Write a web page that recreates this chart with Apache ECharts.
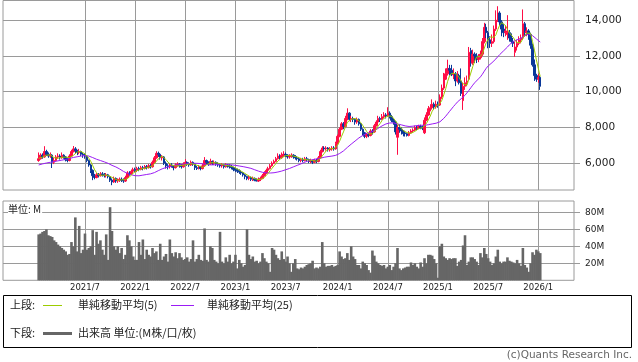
<!DOCTYPE html>
<html><head><meta charset="utf-8">
<script src="https://cdn.jsdelivr.net/npm/echarts@6/dist/echarts.min.js"></script>
<style>html,body{margin:0;padding:0;background:#fff}#c{width:638px;height:362px}</style>
</head><body><div id="c"></div>
<script>
// ---- axis setup data ----
const startMonday = '2020-09-07';
const weekCount = 296;
const dataStartWeek = 18;
const tickLabels = ['2021/7','2022/1','2022/7','2023/1','2023/7','2024/1','2024/7','2025/1','2025/7','2026/1'];
const priceTicks = [6000, 8000, 10000, 12000, 14000];
const volumeTicks = [20, 40, 60, 80];

// ---- weekly candles (from 2021-01-11) ----
const opens = [
6150,6250,6450,6350,6650,6500,6400,6450,6050,6150,
6350,6400,6300,6450,6350,6200,6150,6400,6650,6800,
6700,6600,6650,6500,6450,6400,6150,5900,5600,5300,
5200,5350,5300,5400,5350,5300,5350,5250,5050,4950,
5150,5000,5050,5100,5050,5000,5200,5450,5400,5550,
5650,5600,5700,5650,5750,5700,5800,5750,5850,5800,
6050,6300,6550,6500,6300,6350,6000,5850,5800,5900,
5850,5750,5900,5950,5850,5800,5950,6050,5950,5900,
6050,5950,5750,5700,5800,5700,5850,6150,6050,5950,
6100,6000,6050,5950,5900,5850,5900,5800,5900,5850,
5800,5750,5650,5600,5550,5500,5450,5350,5250,5150,
5200,5100,5150,5050,5000,5100,5150,5300,5450,5600,
5700,5850,6000,6100,6250,6400,6300,6450,6500,6450,
6350,6400,6450,6350,6300,6250,6150,6200,6150,6250,
6200,6100,6150,6050,6150,6100,6300,6650,6850,6800,
6850,6750,6800,6850,6800,7100,7500,7900,8200,8050,
8500,8800,8450,8500,8450,8300,8450,8200,7900,7700,
7500,7600,7550,7800,7750,8100,8300,8500,8450,8600,
8700,8650,8800,8600,8400,8300,7450,8000,7900,7800,
7700,7650,7550,7700,7800,7850,8000,7950,8050,8000,
7700,8400,8700,9050,9100,9300,9150,9300,9250,9700,
10200,10700,11000,11300,11200,10950,11000,10600,10900,10600,
9500,10300,10500,10700,12300,11600,12100,12000,11800,11900,
12100,12800,13600,13300,12900,12700,12800,13500,14000,14400,
13900,13500,13300,13200,13300,13000,12800,12200,12500,12700,
12900,13000,13800,13300,13400,13200,12600,11500,10900,10700,
10800];
const closes = [
6250,6450,6350,6650,6500,6400,6450,6050,6150,6350,
6400,6300,6450,6350,6200,6150,6400,6650,6800,6700,
6600,6650,6500,6450,6400,6150,5900,5600,5300,5200,
5350,5300,5400,5350,5300,5350,5250,5050,4950,5150,
5000,5050,5100,5050,5000,5200,5450,5400,5550,5650,
5600,5700,5650,5750,5700,5800,5750,5850,5800,6050,
6300,6550,6500,6300,6350,6000,5850,5800,5900,5850,
5750,5900,5950,5850,5800,5950,6050,5950,5900,6050,
5950,5750,5700,5800,5700,5850,6150,6050,5950,6100,
6000,6050,5950,5900,5850,5900,5800,5900,5850,5800,
5750,5650,5600,5550,5500,5450,5350,5250,5150,5200,
5100,5150,5050,5000,5100,5150,5300,5450,5600,5700,
5850,6000,6100,6250,6400,6300,6450,6500,6450,6350,
6400,6450,6350,6300,6250,6150,6200,6150,6250,6200,
6100,6150,6050,6150,6100,6300,6650,6850,6800,6850,
6750,6800,6850,6800,7100,7500,7900,8200,8050,8500,
8800,8450,8500,8450,8300,8450,8200,7900,7700,7500,
7600,7550,7800,7750,8100,8300,8500,8450,8600,8700,
8650,8800,8600,8400,8300,7750,8000,7900,7800,7650,
7650,7550,7700,7800,7850,8000,7950,8050,8000,7950,
8400,8700,9050,9100,9300,9150,9300,9250,9700,10200,
10700,11000,11300,11200,10950,11000,10600,10900,10500,9900,
10300,10500,10600,12200,11600,12100,12000,11800,11900,12100,
12800,13600,13300,12900,12700,12800,13500,14000,14400,13900,
13500,13300,13400,13300,13000,12800,12700,12500,12700,12900,
13000,13800,13300,13400,13200,12600,11500,10900,10700,10800,
10300];
const lows = [
6080,6200,6250,6300,6400,6300,6300,5730,5950,6100,
6250,6200,6250,6250,6100,6050,6100,6350,6600,6550,
6450,6500,6400,6300,6250,6050,5800,5450,5050,5100,
5150,5200,5250,5250,5200,5200,5150,4950,4770,4900,
4900,4900,4950,4950,4900,4950,5150,5300,5350,5450,
5500,5500,5550,5600,5600,5650,5650,5700,5700,5750,
6000,6250,6350,6200,6150,5900,5700,5650,5700,5750,
5600,5700,5800,5750,5700,5750,5900,5850,5800,5850,
5850,5620,5620,5650,5600,5650,5800,5950,5850,5900,
5900,5900,5850,5800,5750,5750,5700,5750,5750,5700,
5650,5550,5500,5450,5400,5350,5250,5100,5050,5050,
5000,5000,4990,4990,4950,5000,5100,5250,5400,5550,
5650,5800,5950,6050,6200,6200,6250,6350,6350,6250,
6250,6300,6250,6200,6150,6050,6050,6050,6100,6100,
6000,6000,5950,6000,6000,6050,6250,6600,6700,6700,
6650,6650,6700,6700,6750,7050,7450,7850,7900,8000,
8400,8350,8300,8300,8150,8200,8100,7800,7550,7400,
7400,7450,7500,7600,7700,8050,8250,8300,8400,8500,
8500,8600,8500,8300,8150,7600,6470,7700,7600,7500,
7490,7490,7500,7650,7700,7800,7850,7900,7900,7850,
7630,8350,8650,8900,9000,9000,9050,9100,9200,9600,
10100,10650,10900,10900,10870,10700,10310,10500,10400,9760,
8980,10100,10300,10600,11400,11500,11600,11600,11650,11800,
12000,12700,13000,12430,12450,12500,12700,13400,13900,13700,
13100,13050,13100,12900,12800,12700,12500,11950,12300,12600,
12700,12900,13080,13100,12900,12400,11400,10600,10550,10500,
10100];
const highs = [
6600,6550,6550,6950,6750,6600,6600,6500,6300,6450,
6550,6500,6600,6500,6400,6300,6500,6750,6960,6900,
6750,6800,6700,6600,6550,6450,6200,5950,5650,5400,
5450,5450,5500,5500,5450,5450,5400,5300,5150,5250,
5200,5150,5200,5200,5150,5300,5550,5550,5650,5750,
5750,5800,5800,5850,5850,5900,5900,5950,5950,6150,
6400,6670,6650,6550,6450,6400,6100,5950,6000,6000,
5900,6000,6050,6000,5950,6050,6230,6100,6050,6150,
6100,6000,5850,5900,5850,5950,6340,6200,6100,6250,
6150,6150,6100,6050,6000,6000,5950,6000,5950,5950,
5900,5800,5750,5700,5650,5600,5500,5400,5300,5300,
5250,5250,5200,5150,5200,5250,5400,5550,5700,5800,
5950,6100,6200,6350,6550,6500,6600,6670,6600,6500,
6500,6550,6500,6450,6400,6350,6300,6300,6350,6350,
6250,6250,6200,6250,6250,6400,6750,6950,6950,6950,
6900,6900,6950,6950,7200,7600,8000,8300,8300,8650,
9070,8850,8650,8600,8500,8550,8500,8250,7950,7750,
7700,7700,7900,7900,8200,8400,8650,8600,8750,8850,
8800,9130,8900,8700,8500,8350,8150,8150,8000,7850,
7800,7700,7800,7900,7950,8100,8100,8150,8150,8100,
8560,8850,9200,9300,9570,9400,9500,9450,9850,10400,
11050,11300,11790,11500,11500,11300,11100,11150,11000,11300,
10500,10800,10900,12500,12450,12350,12200,12150,12100,12300,
13000,13850,13800,13400,13100,13200,13700,14550,14780,14500,
14000,13800,13700,14280,13450,13260,13000,12800,12900,13100,
13200,14600,13900,13600,13500,13300,12700,11800,11000,11000,
10900];
// ---- moving averages ----
const ma5 = [
6270,6320,6340,6410,6440,6470,6470,6410,6310,6280,
6280,6250,6330,6370,6340,6290,6310,6350,6440,6540,
6630,6680,6650,6580,6520,6430,6280,6100,5870,5630,
5470,5350,5310,5320,5340,5340,5330,5260,5180,5150,
5080,5040,5050,5070,5040,5080,5160,5220,5320,5450,
5530,5580,5630,5670,5680,5720,5730,5770,5780,5850,
5950,6110,6240,6340,6400,6340,6200,6060,5980,5880,
5830,5840,5870,5860,5850,5890,5920,5920,5930,5980,
5980,5920,5870,5850,5780,5760,5840,5910,5940,6020,
6050,6030,6010,6000,5950,5930,5880,5870,5860,5850,
5820,5790,5730,5670,5610,5550,5490,5420,5340,5280,
5210,5170,5130,5100,5080,5090,5120,5200,5320,5440,
5580,5720,5850,5980,6120,6210,6300,6380,6420,6410,
6430,6430,6400,6370,6350,6300,6250,6210,6200,6190,
6180,6170,6150,6130,6110,6150,6250,6410,6540,6690,
6780,6810,6810,6810,6860,7010,7230,7500,7750,8030,
8290,8400,8460,8540,8500,8430,8380,8260,8110,7950,
7780,7650,7630,7640,7760,7900,8090,8220,8390,8510,
8580,8640,8670,8630,8550,8370,8210,8070,7950,7820,
7800,7710,7670,7670,7710,7780,7860,7930,7970,7990,
8070,8220,8420,8640,8910,9060,9180,9220,9340,9520,
9830,10170,10580,10880,11030,11090,11010,10930,10790,10580,
10440,10420,10360,10700,11040,11400,11700,11940,11880,11980,
12120,12440,12740,12940,13060,13060,13040,13180,13480,13720,
13860,13820,13700,13480,13300,13160,13040,12860,12740,12720,
12760,12980,13140,13280,13340,13260,12800,12320,11780,11300,
10840];
const ma25 = [
5900,5930,5960,5990,6010,6030,6050,6070,6090,6110,
6130,6150,6170,6190,6210,6240,6270,6290,6320,6340,
6360,6380,6400,6410,6424,6420,6398,6368,6314,6262,
6220,6174,6148,6116,6074,6032,5990,5934,5878,5836,
5790,5736,5674,5604,5536,5480,5432,5388,5352,5322,
5300,5292,5294,5312,5332,5350,5368,5386,5404,5434,
5472,5524,5582,5636,5684,5724,5756,5784,5818,5852,
5874,5892,5914,5926,5932,5946,5960,5972,5978,5992,
5998,5998,5992,5992,5978,5960,5944,5926,5912,5902,
5902,5910,5916,5916,5916,5922,5918,5916,5916,5916,
5908,5892,5878,5864,5842,5822,5806,5788,5762,5742,
5712,5672,5632,5594,5554,5520,5490,5470,5458,5452,
5450,5458,5466,5482,5506,5528,5560,5596,5632,5666,
5704,5748,5792,5838,5880,5922,5964,6008,6058,6102,
6140,6174,6198,6220,6236,6254,6280,6310,6332,6350,
6368,6382,6396,6410,6440,6484,6542,6616,6686,6776,
6882,6972,7066,7154,7238,7332,7414,7488,7550,7606,
7658,7694,7732,7770,7820,7882,7950,8014,8086,8150,
8196,8232,8248,8262,8254,8212,8194,8170,8144,8118,
8086,8060,8052,8056,8070,8086,8102,8112,8122,8116,
8120,8128,8152,8172,8196,8216,8236,8262,8314,8390,
8508,8628,8764,8900,9032,9166,9288,9416,9524,9606,
9698,9800,9902,10070,10216,10364,10496,10606,10718,10830,
10976,11148,11310,11438,11538,11622,11722,11830,11958,12076,
12176,12284,12384,12496,12620,12720,12808,12884,12904,12956,
12992,13064,13124,13184,13228,13220,13136,13040,12952,12876,
12776];
// ---- weekly volume, millions ----
const volumes = [
54,55,57,58,60,53,52,51,47,45,
42,40,38,36,34,30,31,45,40,74,
34,64,32,36,55,36,38,40,59,30,
57,43,47,36,30,54,24,86,58,40,
36,40,32,38,25,30,53,47,40,28,
24,24,45,30,48,25,36,30,28,38,
32,34,24,43,24,28,31,22,48,32,
28,33,26,32,27,24,25,27,22,25,
47,22,25,30,24,23,61,24,22,40,
38,24,22,20,57,22,20,27,22,30,
20,22,30,14,24,20,16,18,60,30,
25,28,22,23,20,22,32,26,22,20,
10,38,36,30,26,24,34,25,22,28,
20,10,20,25,14,13,15,14,16,18,
19,20,23,14,15,14,16,45,20,16,
17,17,18,16,17,18,34,28,25,26,
32,24,40,28,25,18,18,14,22,20,
18,12,9,35,29,22,20,18,17,18,
14,16,18,12,16,20,38,14,12,14,
15,16,16,21,18,20,16,14,21,16,
26,20,30,30,29,25,20,3,40,43,
28,26,24,26,25,26,26,17,22,24,
41,53,18,22,27,27,25,22,18,32,
27,38,31,26,22,18,20,28,36,22,
20,22,22,27,23,22,21,20,24,20,
17,38,18,15,10,20,33,30,36,34,
32];

// ---- build categories (weekly Mondays) and axis helpers ----
const DAY = 86400000;
const base = Date.parse(startMonday + 'T00:00:00Z');
const categories = [];
for (let i = 0; i < weekCount; i++) categories.push(new Date(base + i * 7 * DAY).toISOString().slice(0, 10));
function weekLabel(cat) {
  const t = Date.parse(cat + 'T00:00:00Z');
  for (let k = 0; k < 7; k++) {
    const e = new Date(t + k * DAY);
    if (e.getUTCDate() === 1) {
      const s = e.getUTCFullYear() + '/' + (e.getUTCMonth() + 1);
      return tickLabels.indexOf(s) >= 0 ? s : '';
    }
  }
  return '';
}
const labelOf = categories.map(weekLabel);
const showAt = (i) => labelOf[i] !== '';

const candleData = opens.map((o, k) => [dataStartWeek + k, o, closes[k], lows[k], highs[k]]);
const ma5Data = ma5.map((v, k) => [dataStartWeek + k, v]);
const ma25Data = ma25.map((v, k) => [dataStartWeek + k, v]);
const volData = volumes.map((v, k) => [dataStartWeek + k, v]);

const GRID = '#9a9a9a';
const UP = '#ff0d45', DOWN = '#0a3899';
const JP = '"Noto Sans CJK JP", sans-serif';

function xAxis(gridIndex, withLabels) {
  return {
    type: 'category', gridIndex, data: categories, boundaryGap: true,
    axisLine: { show: false },
    axisTick: { show: false, interval: showAt, alignWithLabel: true },
    axisLabel: withLabels ? {
      show: true, interval: showAt, formatter: (v) => weekLabel(v), margin: 3,
      fontSize: 8.5, fontFamily: 'DejaVu Sans', color: '#222'
    } : { show: false },
    splitLine: { show: true, interval: showAt, alignWithLabel: true, lineStyle: { color: GRID, width: 1 } }
  };
}

const chart = echarts.init(document.getElementById('c'), null, { renderer: 'canvas' });
chart.setOption({
  animation: false,
  backgroundColor: '#fff',
  grid: [
    { left: 3, top: 0.5, width: 571, height: 189.5, show: true, borderColor: GRID, borderWidth: 1, backgroundColor: 'transparent' },
    { left: 3, top: 201, width: 571, height: 79.3, show: true, borderColor: GRID, borderWidth: 1, backgroundColor: 'transparent' }
  ],
  xAxis: [xAxis(0, false), xAxis(1, true)],
  yAxis: [
    {
      type: 'value', gridIndex: 0, position: 'right', min: 4500, max: 15100, scale: true,
      axisLine: { show: false },
      axisTick: { show: true, length: 6, customValues: priceTicks, lineStyle: { color: GRID } },
      axisLabel: { customValues: priceTicks, margin: 11, fontSize: 10.5, fontFamily: 'DejaVu Sans', color: '#222',
        formatter: (v) => Number(v).toLocaleString('en-US') },
      splitLine: { show: true, lineStyle: { color: GRID, width: 1 } }
    },
    {
      type: 'value', gridIndex: 1, position: 'right', min: 0, max: 93.3,
      axisLine: { show: false },
      axisTick: { show: true, length: 6, customValues: volumeTicks, lineStyle: { color: GRID } },
      axisLabel: { customValues: volumeTicks, margin: 11, fontSize: 9, fontFamily: 'DejaVu Sans', color: '#222',
        formatter: (v) => v + 'M' },
      splitLine: { show: true, lineStyle: { color: GRID, width: 1 } }
    }
  ],
  series: [
    {
      type: 'candlestick', xAxisIndex: 0, yAxisIndex: 0, data: candleData,
      encode: { x: 0, y: [1, 2, 3, 4] }, barWidth: 2, silent: true,
      itemStyle: { color: UP, color0: DOWN, borderColor: UP, borderColor0: DOWN, borderWidth: 1 }
    },
    { type: 'line', xAxisIndex: 0, yAxisIndex: 0, data: ma25Data, showSymbol: false, silent: true, z: 4,
      lineStyle: { color: '#9b1cf5', width: 1 } },
    { type: 'line', xAxisIndex: 0, yAxisIndex: 0, data: ma5Data, showSymbol: false, silent: true, z: 5,
      lineStyle: { color: '#9ccc00', width: 1 } },
    { type: 'bar', xAxisIndex: 1, yAxisIndex: 1, data: volData, barWidth: 2.6, silent: true,
      itemStyle: { color: '#666666' } }
  ],
  graphic: [
    { type: 'text', left: 8, top: 204, z: 100,
      style: { text: '単位: M', font: '10px ' + JP, fill: '#222', backgroundColor: '#fff', padding: [0, 1, 0, 0] } },
    { type: 'rect', shape: { x: 3.5, y: 295.5, width: 628, height: 52 }, style: { fill: 'none', stroke: '#000', lineWidth: 1 } },
    { type: 'text', x: 10, y: 305, style: { text: '上段:', font: '11px ' + JP, fill: '#222', verticalAlign: 'middle', textVerticalAlign: 'middle' } },
    { type: 'line', shape: { x1: 43, y1: 305.5, x2: 62, y2: 305.5 }, style: { stroke: '#9ccc00', lineWidth: 1 } },
    { type: 'text', x: 78, y: 305, style: { text: '単純移動平均(5)', font: '11px ' + JP, fill: '#222', verticalAlign: 'middle', textVerticalAlign: 'middle' } },
    { type: 'line', shape: { x1: 171, y1: 305.5, x2: 194, y2: 305.5 }, style: { stroke: '#9b1cf5', lineWidth: 1 } },
    { type: 'text', x: 207, y: 305, style: { text: '単純移動平均(25)', font: '11px ' + JP, fill: '#222', verticalAlign: 'middle', textVerticalAlign: 'middle' } },
    { type: 'text', x: 10, y: 333, style: { text: '下段:', font: '11px ' + JP, fill: '#222', verticalAlign: 'middle', textVerticalAlign: 'middle' } },
    { type: 'line', shape: { x1: 43, y1: 333.5, x2: 72, y2: 333.5 }, style: { stroke: '#666666', lineWidth: 3 } },
    { type: 'text', x: 78, y: 333, style: { text: '出来高 単位:(M株/口/枚)', font: '11px ' + JP, fill: '#222', verticalAlign: 'middle', textVerticalAlign: 'middle' } },
    { type: 'text', x: 632, y: 355, style: { text: '(c)Quants Research Inc.', font: '10.5px "DejaVu Sans", sans-serif', fill: '#666',
      align: 'right', textAlign: 'right', verticalAlign: 'middle', textVerticalAlign: 'middle' } }
  ]
});
</script>
</body></html>
